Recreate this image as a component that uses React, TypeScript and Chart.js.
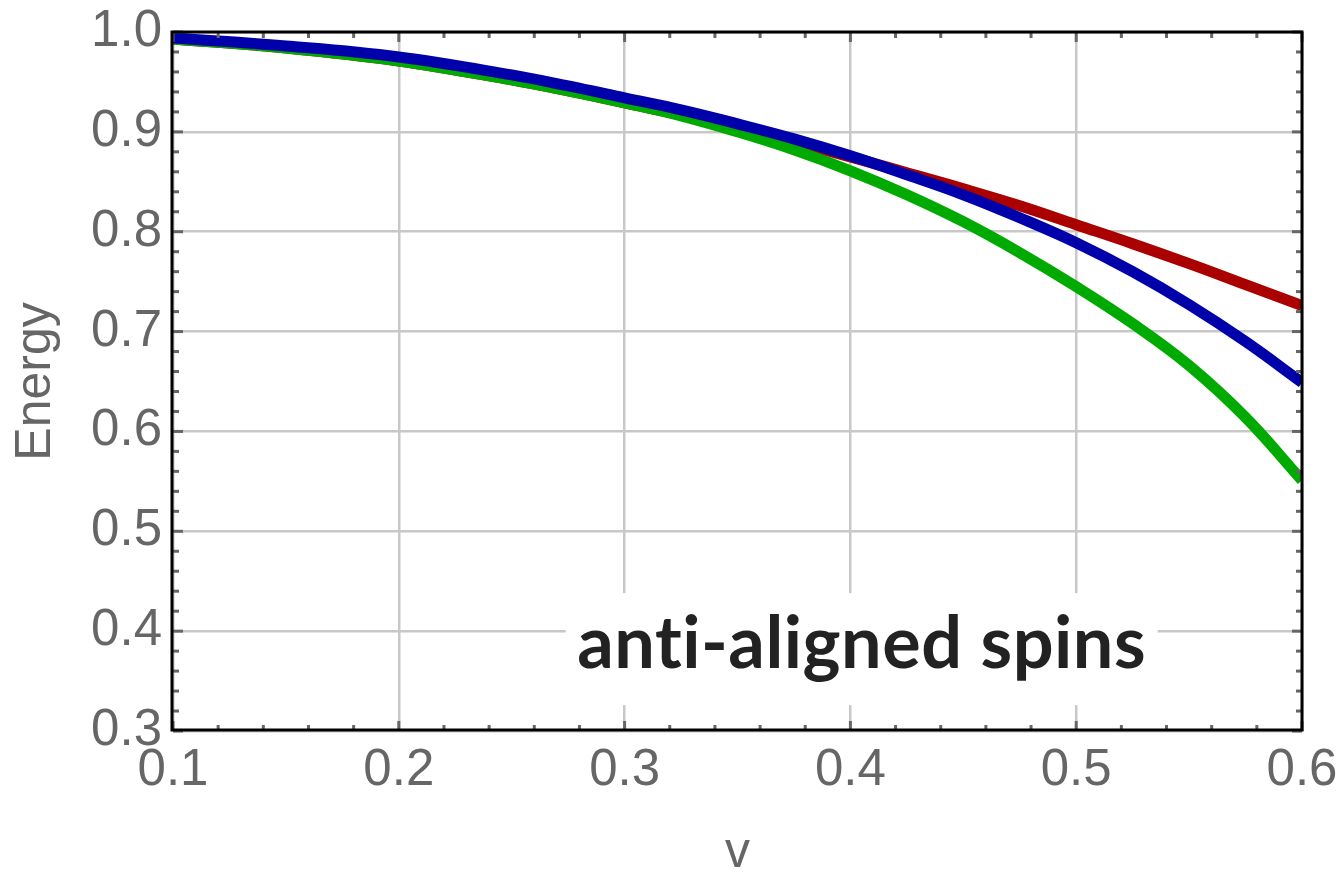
import { useEffect, useRef } from "react";
import { Chart, registerables } from "chart.js";

Chart.register(...registerables);

// ---- data ----
const vValues = [0.1, 0.15, 0.2, 0.25, 0.275, 0.3, 0.325, 0.35, 0.375, 0.4, 0.425, 0.45, 0.475, 0.5, 0.525, 0.55, 0.575, 0.6];
const energyRed = [0.993, 0.984, 0.971, 0.952, 0.941, 0.929, 0.917, 0.904, 0.890, 0.875, 0.859, 0.843, 0.826, 0.807, 0.788, 0.768, 0.747, 0.726];
const energyBlue = [0.994, 0.986, 0.975, 0.957, 0.946, 0.934, 0.922, 0.908, 0.893, 0.876, 0.857, 0.837, 0.814, 0.789, 0.760, 0.727, 0.69, 0.649];
const energyGreen = [0.993, 0.984, 0.971, 0.952, 0.941, 0.929, 0.916, 0.900, 0.882, 0.861, 0.837, 0.810, 0.779, 0.745, 0.708, 0.666, 0.614, 0.551];

const xTickValues = [0.1, 0.2, 0.3, 0.4, 0.5, 0.6];
const yTickValues = [0.3, 0.4, 0.5, 0.6, 0.7, 0.8, 0.9, 1.0];

const xAxisTitle = "v";
const yAxisTitle = "Energy";
const annotationText = "anti-aligned spins";
const annotationAt = [0.405, 0.382];

const LABEL_FONT = '"Liberation Sans", Arial, sans-serif';

const annotationPlugin = {
  id: "annotationBox",
  beforeDatasetsDraw(chart: any) {
    const { ctx, scales } = chart;
    const cx = scales.x.getPixelForValue(annotationAt[0]);
    const cy = scales.y.getPixelForValue(annotationAt[1]);
    ctx.save();
    ctx.fillStyle = "#ffffff";
    ctx.fillRect(cx - 296, cy - 56, 592, 112);
    ctx.font = '700 72px Lato, "Open Sans", sans-serif';
    (ctx as any).letterSpacing = "0.5px";
    ctx.textAlign = "center";
    ctx.textBaseline = "alphabetic";
    ctx.fillStyle = "#222222";
    ctx.fillText(annotationText, cx, cy + 19);
    ctx.restore();
  },
};

const framePlugin = {
  id: "frameTicks",
  afterDatasetsDraw(chart: any) {
    const { ctx, chartArea, scales } = chart;
    const { left, right, top, bottom } = chartArea;
    const x = scales.x;
    const y = scales.y;
    ctx.save();
    ctx.strokeStyle = "#666666";
    ctx.lineWidth = 3;
    const seg = (x1: number, y1: number, x2: number, y2: number) => {
      ctx.beginPath();
      ctx.moveTo(x1, y1);
      ctx.lineTo(x2, y2);
      ctx.stroke();
    };
    const majorLen = 10;
    const minorLen = 6;
    xTickValues.forEach((v, i) => {
      const px = x.getPixelForValue(v);
      seg(px, bottom, px, bottom - majorLen);
      seg(px, top, px, top + majorLen);
      if (i < xTickValues.length - 1) {
        const next = xTickValues[i + 1];
        for (let k = 1; k < 5; k++) {
          const mx = x.getPixelForValue(v + ((next - v) * k) / 5);
          seg(mx, bottom, mx, bottom - minorLen);
          seg(mx, top, mx, top + minorLen);
        }
      }
    });
    yTickValues.forEach((v, i) => {
      const py = y.getPixelForValue(v);
      seg(left, py, left + majorLen, py);
      seg(right, py, right - majorLen, py);
      if (i < yTickValues.length - 1) {
        const next = yTickValues[i + 1];
        for (let k = 1; k < 5; k++) {
          const my = y.getPixelForValue(v + ((next - v) * k) / 5);
          seg(left, my, left + minorLen, my);
          seg(right, my, right - minorLen, my);
        }
      }
    });
    ctx.strokeStyle = "#000000";
    ctx.lineWidth = 3;
    ctx.strokeRect(left - 1, top, right - left + 1, bottom - top - 1);
    ctx.restore();
  },
};

const series = (ys: number[]) => vValues.map((v, i) => ({ x: v, y: ys[i] }));

const lineStyle = {
  borderWidth: 11,
  pointRadius: 0,
  tension: 0.4,
  fill: false,
};

export default function App() {
  const ref = useRef<HTMLCanvasElement>(null);
  useEffect(() => {
    document.body.style.margin = "0";
    const chart = new Chart(ref.current as HTMLCanvasElement, {
      type: "line",
      data: {
        datasets: [
          { label: "blue", data: series(energyBlue), borderColor: "#0000aa", ...lineStyle },
          { label: "green", data: series(energyGreen), borderColor: "#00aa00", ...lineStyle },
          { label: "red", data: series(energyRed), borderColor: "#aa0000", ...lineStyle },
        ],
      },
      options: {
        responsive: false,
        animation: false,
        events: [],
        layout: { padding: { left: 0, right: 39, top: 32, bottom: 0 } },
        plugins: {
          legend: { display: false },
          tooltip: { enabled: false },
        },
        scales: {
          x: {
            type: "linear",
            min: 0.1,
            max: 0.6,
            afterBuildTicks: (s: any) => {
              s.ticks = xTickValues.map((v) => ({ value: v }));
            },
            afterFit: (s: any) => {
              s.height = 142;
              s.paddingLeft = 0;
              s.paddingRight = 0;
            },
            grid: { color: "#c8c8c8", lineWidth: 2.5, drawTicks: false },
            border: { display: false },
            ticks: {
              padding: 9,
              color: "#666666",
              font: { family: LABEL_FONT, size: 51 },
              maxRotation: 0,
              autoSkip: false,
              callback: (v: any) => Number(v).toFixed(1),
            },
            title: {
              display: true,
              text: xAxisTitle,
              color: "#666666",
              font: { family: LABEL_FONT, size: 50, lineHeight: 0.8 },
              padding: 0,
            },
          },
          y: {
            type: "linear",
            min: 0.3,
            max: 1.0,
            afterBuildTicks: (s: any) => {
              s.ticks = yTickValues.map((v) => ({ value: v }));
            },
            afterFit: (s: any) => {
              s.width = 173;
              s.paddingTop = 0;
              s.paddingBottom = 0;
            },
            grid: { color: "#c8c8c8", lineWidth: 2.5, drawTicks: false },
            border: { display: false },
            ticks: {
              padding: 11,
              color: "#666666",
              font: { family: LABEL_FONT, size: 51 },
              autoSkip: false,
              callback: (v: any) => Number(v).toFixed(1),
            },
            title: {
              display: true,
              text: yAxisTitle,
              color: "#666666",
              font: { family: LABEL_FONT, size: 50 },
              padding: { top: 6, bottom: 0 },
            },
          },
        },
      },
      plugins: [annotationPlugin, framePlugin],
    });
    return () => chart.destroy();
  }, []);
  return (
    <div style={{ position: "fixed", left: 0, top: 0, width: 1341, height: 873, background: "#ffffff" }}>
      <canvas ref={ref} width={1341} height={873} style={{ display: "block" }} />
    </div>
  );
}
